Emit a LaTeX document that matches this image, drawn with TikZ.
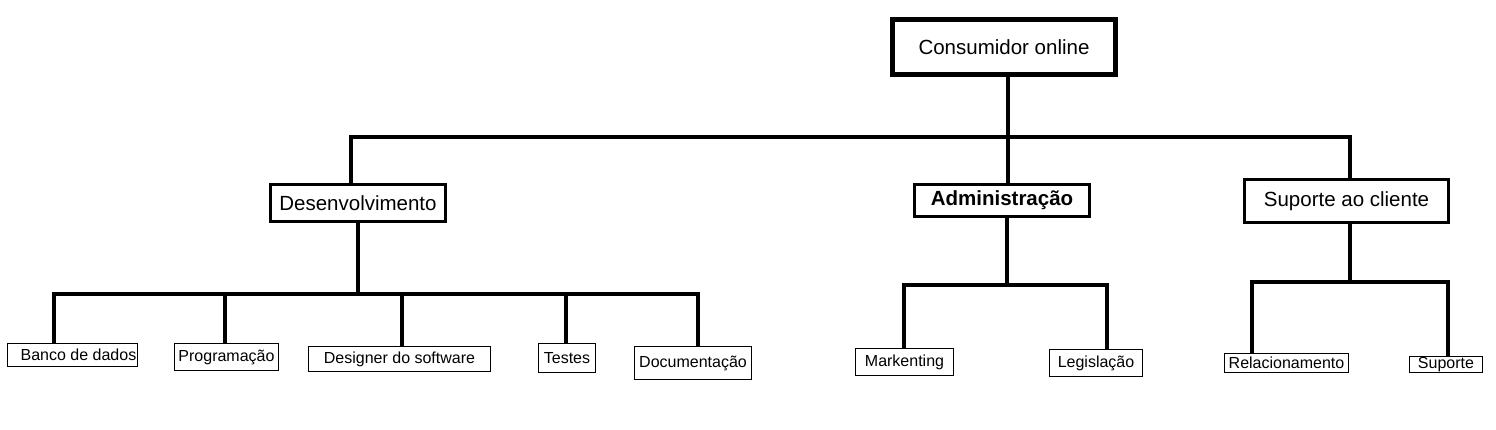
\documentclass[tikz,border=0pt]{standalone}
\usepackage{fontspec}
\setmainfont{Liberation Sans}
\begin{document}
\begin{tikzpicture}[x=1pt,y=-1pt,
  bigbox/.style={draw,line width=3pt,inner sep=0pt,font=\fontsize{20.5}{24}\selectfont},
  rootbox/.style={draw,line width=5pt,inner sep=0pt,font=\fontsize{20.5}{24}\selectfont},
  leafbox/.style={draw,line width=1pt,inner sep=0pt,font=\fontsize{16}{19}\selectfont},
  conn/.style={line width=3.2pt,line join=miter}]
\useasboundingbox (0,0) rectangle (1496,430);
% nodes
\node[rootbox,minimum width=223pt,minimum height=55pt] (root) at (1004,47) {Consumidor online};
\node[bigbox,minimum width=175pt,minimum height=37pt] (dev) at (358,203) {Desenvolvimento};
\node[bigbox,minimum width=175pt,minimum height=32pt] (adm) at (1002,200.5) {\bfseries Administração};
\node[bigbox,minimum width=204pt,minimum height=43pt] (sup) at (1346.5,201) {Suporte ao cliente};
\node[leafbox,minimum width=130pt,minimum height=23pt] (banco) at (72.5,355) {\hspace*{12pt}Banco de dados};
\node[leafbox,minimum width=104pt,minimum height=27pt] (prog) at (226.5,357) {Programação};
\node[leafbox,minimum width=182pt,minimum height=25pt] (design) at (399.5,359) {Designer do software};
\node[leafbox,minimum width=57pt,minimum height=29pt] (testes) at (567,358) {Testes};
\node[leafbox,minimum width=117pt,minimum height=33pt] (doc) at (693,363) {Documentação};
\node[leafbox,minimum width=98pt,minimum height=27pt] (mark) at (904.5,362) {Markenting};
\node[leafbox,minimum width=93pt,minimum height=27pt] (leg) at (1096,363) {Legislação};
\node[leafbox,minimum width=124pt,minimum height=19pt] (rel) at (1286.5,363) {Relacionamento};
\node[leafbox,minimum width=73pt,minimum height=16pt] (supp) at (1446,364.5) {Suporte};
% bus coordinates
\coordinate (rb) at (1008,137);
\coordinate (bL) at (351,137);
\coordinate (bR) at (1350,137);
\coordinate (d0) at (358,294);
\coordinate (d1) at (54,294);
\coordinate (d2) at (225,294);
\coordinate (d3) at (402,294);
\coordinate (d4) at (566,294);
\coordinate (d5) at (698,294);
\coordinate (a0) at (1007,285);
\coordinate (a1) at (904,285);
\coordinate (a2) at (1107,285);
\coordinate (s0) at (1350,282);
\coordinate (s1) at (1252,282);
\coordinate (s2) at (1448,282);
% level 1
\draw[conn] (root.south -| rb) -- (rb);
\draw[conn] (dev.north -| bL) -- (bL) -- (bR) -- (sup.north -| bR);
\draw[conn] (rb) -- (adm.north -| rb);
% development
\draw[conn] (dev.south -| d0) -- (d0);
\draw[conn] (banco.north -| d1) -- (d1) -- (d5) -- (doc.north -| d5);
\draw[conn] (d2) -- (prog.north -| d2);
\draw[conn] (d3) -- (design.north -| d3);
\draw[conn] (d4) -- (testes.north -| d4);
% administration
\draw[conn] (adm.south -| a0) -- (a0);
\draw[conn] (mark.north -| a1) -- (a1) -- (a2) -- (leg.north -| a2);
% support
\draw[conn] (sup.south -| s0) -- (s0);
\draw[conn] (rel.north -| s1) -- (s1) -- (s2) -- (supp.north -| s2);
\end{tikzpicture}
\end{document}
